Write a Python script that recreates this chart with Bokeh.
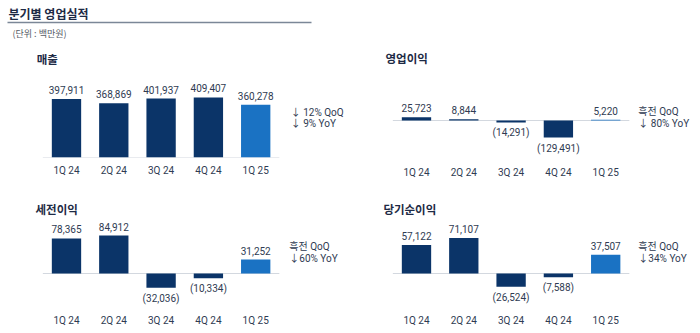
from bokeh.plotting import figure
from bokeh.models import Range1d, Label, ColumnDataSource, FixedTicker
from bokeh.layouts import column, row
from bokeh.core.properties import value
from bokeh.embed import file_html
from bokeh.resources import INLINE

# ---------------- data ----------------
quarters = ["1Q 24", "2Q 24", "3Q 24", "4Q 24", "1Q 25"]
revenue = [397911, 368869, 401937, 409407, 360278]
operating_income = [25723, 8844, -14291, -129491, 5220]
pretax_income = [78365, 84912, -32036, -10334, 31252]
net_income = [57122, 71107, -26524, -7588, 37507]

titles = ["매출", "영업이익", "세전이익", "당기순이익"]
notes = [
    ["↓ 12% QoQ", "↓ 9% YoY"],
    ["흑전 QoQ", "↓ 80% YoY"],
    ["흑전 QoQ", "↓60% YoY"],
    ["흑전 QoQ", "↓34% YoY"],
]
header_title = "분기별 영업실적"
unit_text = "(단위 : 백만원)"

# ---------------- style ----------------
NAVY = "#0b3468"
BLUE = "#1a72c3"
TEXT = "#2f3b52"
TITLE = "#1d2a45"
NUM_FONT = "Roboto, 'Noto Sans CJK KR'"
KR_FONT = "Noto Sans CJK KR"
X_RANGE = (-1.395, 6.004)


def fmt(v):
    return f"({abs(v):,})" if v < 0 else f"{v:,}"


def panel(title, vals, note, height, bottom_border, y0, y1, standoff,
          title_px, title_x, note_x, note_px):
    frame_h = height - bottom_border
    k = (y1 - y0) / frame_h  # data units per pixel
    n = len(quarters)
    xs = list(range(n))

    p = figure(x_range=Range1d(*X_RANGE), y_range=Range1d(y0, y1),
               width=350, height=height, output_backend="svg",
               toolbar_location=None, y_axis_location=None,
               min_border_left=0, min_border_right=0,
               min_border_top=0, min_border_bottom=bottom_border)
    p.outline_line_color = None
    p.grid.visible = False
    p.background_fill_color = "white"
    p.border_fill_color = "white"

    ax = p.xaxis[0]
    ax.ticker = FixedTicker(ticks=xs)
    ax.major_label_overrides = {i: q for i, q in zip(xs, quarters)}
    ax.axis_line_color = None
    ax.major_tick_line_color = None
    ax.minor_tick_line_color = None
    ax.major_tick_in = 0
    ax.major_tick_out = 0
    ax.major_label_standoff = standoff
    ax.major_label_text_font = NUM_FONT
    ax.major_label_text_font_size = "10px"
    ax.major_label_text_color = TEXT

    colors = [NAVY] * (n - 1) + [BLUE]
    src = ColumnDataSource(dict(x=xs, v=vals, c=colors))

    # baseline under the bars
    p.segment(x0=[xs[0] - 0.5], x1=[xs[-1] + 0.5], y0=[0], y1=[0],
              line_color="#d3d8df", line_width=1)
    p.vbar(x="x", top="v", bottom=0, width=0.62, fill_color="c",
           line_color=None, source=src)

    pos = [i for i, v in enumerate(vals) if v >= 0]
    neg = [i for i, v in enumerate(vals) if v < 0]
    for idx, base, off in ((pos, "bottom", -5), (neg, "top", 5)):
        if not idx:
            continue
        s = ColumnDataSource(dict(x=[xs[i] for i in idx],
                                  v=[vals[i] for i in idx],
                                  t=[fmt(vals[i]) for i in idx]))
        p.text(x="x", y="v", text="t", source=s, text_align="center",
               text_baseline=base, y_offset=off,
               text_font=value(NUM_FONT), text_font_size="10px",
               text_color=TEXT)

    p.add_layout(Label(x=title_x, y=title_px * k, text=title,
                       text_font=KR_FONT, text_font_size="11.5px",
                       text_font_style="bold", text_color=TITLE,
                       text_baseline="middle", text_align="left"))
    for line, px in zip(note, note_px):
        p.add_layout(Label(x=note_x, y=px * k, text=line,
                           text_font=NUM_FONT, text_font_size="10px",
                           text_color=TEXT, text_baseline="middle",
                           text_align="left"))
    return p


# header
h = figure(width=700, height=44, x_range=Range1d(0, 700),
           y_range=Range1d(44, 0), output_backend="svg",
           toolbar_location=None, x_axis_location=None,
           y_axis_location=None, min_border=0)
h.outline_line_color = None
h.grid.visible = False
h.add_layout(Label(x=8, y=13, text=header_title, text_font=KR_FONT,
                   text_font_size="12px", text_font_style="bold",
                   text_color=TITLE, text_baseline="middle"))
h.segment(x0=[7], y0=[22], x1=[311], y1=[22], line_color="#7b8797",
          line_width=1.6)
h.add_layout(Label(x=12, y=33, text=unit_text, text_font=KR_FONT,
                   text_font_size="9px", text_color="#555b66",
                   text_baseline="middle"))

p1 = panel(titles[0], revenue, notes[0], 151, 38, 0, 770000, 7,
           99, -0.63, 4.74, [45, 34])
p2 = panel(titles[1], operating_income, notes[1], 151, 38, -281800, 578900, 9,
           63, -0.655, 4.69, [9, -3])
p3 = panel(titles[2], pretax_income, notes[2], 138, 24, -80500, 174500, 5,
           65, -0.655, 4.71, [27, 15])
p4 = panel(titles[3], net_income, notes[3], 138, 24, -72000, 156000, 5,
           65, -0.70, 4.69, [27, 15])

layout = column(h, row(p1, p2), row(p3, p4))
open("out.html", "w").write(file_html(layout, INLINE))
